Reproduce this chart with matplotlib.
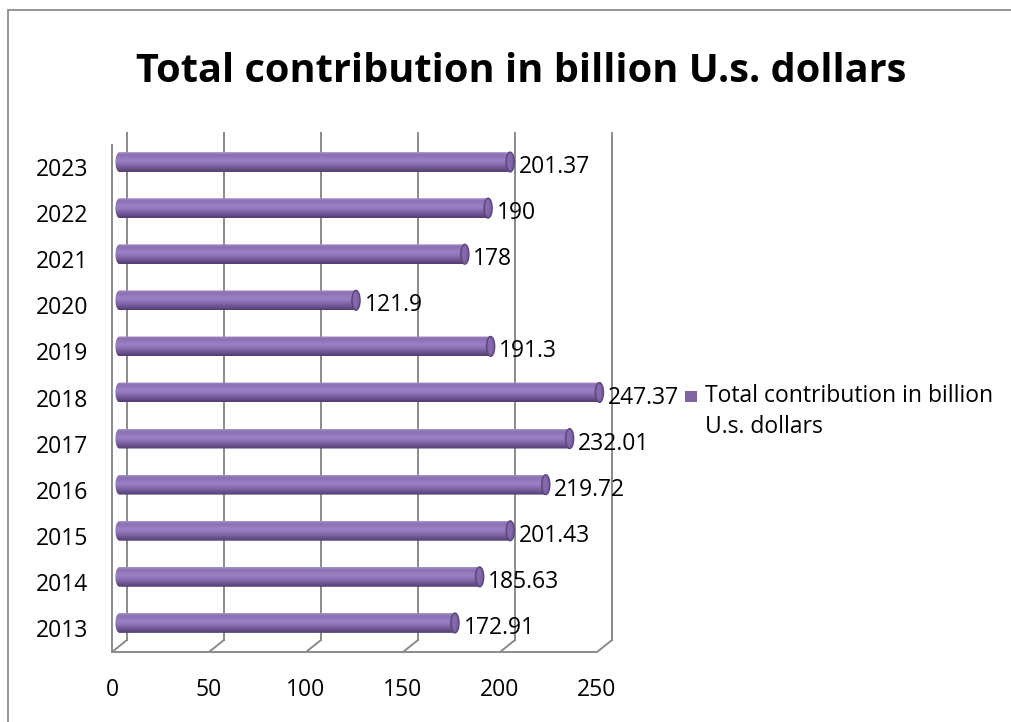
import matplotlib
matplotlib.use("Agg")
import matplotlib.pyplot as plt
import numpy as np
from matplotlib.transforms import offset_copy
from matplotlib.patches import Ellipse, Rectangle, PathPatch
from matplotlib.path import Path
from matplotlib.colors import LinearSegmentedColormap

plt.rcParams['font.family'] = ['Open Sans', 'DejaVu Sans']

years = ['2013', '2014', '2015', '2016', '2017', '2018', '2019', '2020', '2021', '2022', '2023']
values = [172.91, 185.63, 201.43, 219.72, 232.01, 247.37, 191.3, 121.9, 178, 190, 201.37]
value_labels = ['172.91', '185.63', '201.43', '219.72', '232.01', '247.37', '191.3', '121.9', '178', '190', '201.37']
x_ticks = [0, 50, 100, 150, 200, 250]
title = 'Total contribution in billion U.s. dollars'
series_name = ['Total contribution in billion', 'U.s. dollars']

W, H = 1012, 722
fig = plt.figure(figsize=(W / 100, H / 100), dpi=100)

# outer chart frame
fig.patches.append(Rectangle((8 / W, -0.1), 1.2, (H - 10) / H + 0.1, transform=fig.transFigure,
                             fill=False, edgecolor='#8c8c8c', linewidth=1.3))

# front plane of the 3-D plot area (value axis 0..250 spans x 112..597)
x0, x1 = 112, 597
y_top, y_bot = 145, 652
x_max = 265
px_per_unit = (x1 - x0) / 250
ax = fig.add_axes([x0 / W, (H - y_bot) / H, x_max * px_per_unit / W, (y_bot - y_top) / H])
ax.set_xlim(0, x_max)
ax.set_ylim(-0.5, 10.5)
ax.axis('off')

front = ax.transData
back = offset_copy(ax.transData, fig=fig, x=15, y=12, units='dots')
mid = offset_copy(ax.transData, fig=fig, x=7.5, y=6, units='dots')

grid_c = '#8a8a8a'
lw = 1.4

# back wall gridlines
for t in x_ticks:
    ax.plot([t, t], [-0.5, 10.5], color=grid_c, lw=lw, transform=back, clip_on=False, zorder=1)

# floor: front edge, depth diagonals and tick marks
ax.plot([0, 250], [-0.5, -0.5], color=grid_c, lw=lw, transform=front, clip_on=False, zorder=1)
for t in x_ticks:
    p0 = front.transform((t, -0.5))
    p1 = back.transform((t, -0.5))
    ax.add_line(plt.Line2D([p0[0], p1[0]], [p0[1], p1[1]], color=grid_c, lw=lw,
                           transform=None, zorder=1))
    ax.add_line(plt.Line2D([p0[0], p0[0]], [p0[1], p0[1] - 8], color=grid_c, lw=lw,
                           transform=None, zorder=1))

# left wall: front vertical edge, top diagonal and category ticks
ax.plot([0, 0], [-0.5, 10.5], color=grid_c, lw=lw, transform=front, clip_on=False, zorder=1)
pt0 = front.transform((0, 10.5))
pt1 = back.transform((0, 10.5))
ax.add_line(plt.Line2D([pt0[0], pt1[0]], [pt0[1], pt1[1]], color=grid_c, lw=lw, transform=None, zorder=1))
for k in range(12):
    p = front.transform((0, k - 0.5))
    ax.add_line(plt.Line2D([p[0] - 9, p[0]], [p[1], p[1]], color=grid_c, lw=lw, transform=None, zorder=1))

# cylinder bars
bar_h = 0.43
cap_w = 4.2
body_cmap = LinearSegmentedColormap.from_list(
    'cyl', ['#a593c4', '#8a70b2', '#9077b9', '#9a80c4', '#957bbf', '#876cae',
            '#755d9b', '#634d86', '#4f3d6c'])
grad = np.linspace(0, 1, 64).reshape(-1, 1)

for i, v in enumerate(values):
    yc = i
    yb, yt = yc - bar_h / 2, yc + bar_h / 2
    # capsule outline: rounded left end + straight body
    n = 30
    th = np.linspace(np.pi / 2, 3 * np.pi / 2, n)
    left_x = (cap_w / 2) * np.cos(th)
    left_y = yc + (bar_h / 2) * np.sin(th)
    verts = list(zip(left_x, left_y)) + [(v, yb), (v, yt), (left_x[0], left_y[0])]
    codes = [Path.MOVETO] + [Path.LINETO] * (len(verts) - 2) + [Path.CLOSEPOLY]
    clip = PathPatch(Path(verts, codes), transform=mid, facecolor='none', edgecolor='none')
    ax.add_patch(clip)
    img = ax.imshow(grad, cmap=body_cmap, extent=(-cap_w / 2, v, yb, yt), aspect='auto',
                    transform=mid, origin='upper', interpolation='bilinear', zorder=3)
    img.set_clip_path(clip)
    ax.add_patch(Ellipse((v, yc), cap_w, bar_h, transform=mid, facecolor='#7a60a0',
                         edgecolor='#5b4679', linewidth=1.0, zorder=4))
    ax.add_patch(Ellipse((v - 0.3, yc + 0.02), cap_w * 0.55, bar_h * 0.75, transform=mid,
                         facecolor='#8569ad', edgecolor='none', zorder=4))

ax.set_xlim(0, x_max)
ax.set_ylim(-0.5, 10.5)

fs = 16.5
# value labels
for i, (v, lab) in enumerate(zip(values, value_labels)):
    p = front.transform((v, i))
    ax.text(p[0] + 16, p[1] + 1, lab, transform=None, ha='left', va='center',
            fontsize=fs, color='black', zorder=5)

# category labels
for i, y in enumerate(years):
    p = front.transform((0, i))
    ax.text(p[0] - 24, p[1] - 2, y, transform=None, ha='right', va='center',
            fontsize=fs, color='black')

# value axis labels
for t in x_ticks:
    p = front.transform((t, -0.5))
    ax.text(p[0], p[1] - 38, str(t), transform=None, ha='center', va='center',
            fontsize=fs, color='black')

# title
fig.text(521 / W, 1 - 71 / H, title, ha='center', va='center', fontsize=28.6,
         fontweight='bold', color='black')

# legend
fig.patches.append(Rectangle((685 / W, 1 - 402 / H), 12 / W, 11 / H, transform=fig.transFigure,
                             facecolor='#8064a2', edgecolor='none'))
fig.text(705 / W, 1 - 396 / H, series_name[0], ha='left', va='center',
         fontsize=fs, color='black')
fig.text(705 / W, 1 - 427 / H, series_name[1], ha='left', va='center',
         fontsize=fs, color='black')

fig.savefig('out.png', dpi=100)
